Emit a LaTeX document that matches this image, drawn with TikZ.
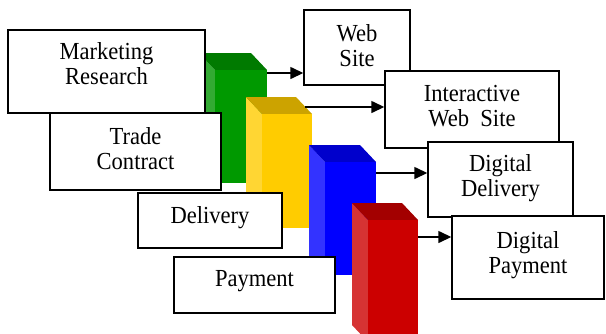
\documentclass[tikz,border=0pt]{standalone}
\usepackage{fontspec}
\setmainfont{Liberation Serif}
\newfontfamily\boxfont{Liberation Serif}[FakeStretch=0.92]
\usetikzlibrary{arrows.meta}

\definecolor{grnside}{RGB}{51,170,51}
\definecolor{grntop}{RGB}{0,122,0}
\definecolor{grnfront}{RGB}{0,153,0}
\definecolor{ylwside}{RGB}{255,214,51}
\definecolor{ylwtop}{RGB}{204,163,0}
\definecolor{ylwfront}{RGB}{255,204,0}
\definecolor{bluside}{RGB}{51,51,255}
\definecolor{blutop}{RGB}{0,0,204}
\definecolor{blufront}{RGB}{0,0,255}
\definecolor{redside}{RGB}{214,51,51}
\definecolor{redtop}{RGB}{163,0,0}
\definecolor{redfront}{RGB}{204,0,0}

\begin{document}
\begin{tikzpicture}[x=1pt, y=-1pt,
  box/.style={draw, fill=white, line width=1.4pt, inner sep=0pt},
  txt/.style={anchor=north, inner sep=0pt, align=center,
    font=\boxfont\fontsize{24.5}{25}\selectfont},
  link/.style={line width=1.4pt, -{Triangle[length=13pt,width=12pt]}}]

\useasboundingbox (0,0) rectangle (606,333);
\clip (0,0) rectangle (606,333);

% green bar
\fill[grnside] (199,53) -- (215,70) -- (215,183) -- (199,166) -- cycle;
\fill[grntop] (199,53) -- (251,53) -- (267,70) -- (215,70) -- cycle;
\fill[grnfront] (215,70) rectangle (267,183);
\coordinate (g) at (267,73);

\node[box, minimum width=197, minimum height=83] (mr) at (106.5,71.5) {};
\node[txt] (mrt) at (106.5,42.5) {Marketing\\Research};

\node[box, minimum width=171, minimum height=77] (tc) at (135.5,151.5) {};
\node[txt] (tct) at (135.5,127.5) {Trade\\Contract};

% yellow bar
\fill[ylwside] (246,97) -- (262,114) -- (262,228) -- (246,211) -- cycle;
\fill[ylwtop] (246,97) -- (296,97) -- (312,114) -- (262,114) -- cycle;
\fill[ylwfront] (262,114) rectangle (312,228);
\coordinate (y) at (305,107);

\node[box, minimum width=144, minimum height=55] (dl) at (210,220.5) {};
\node[txt] (dlt) at (210,206) {Delivery};

% blue bar
\fill[bluside] (309,145) -- (325,162) -- (325,275) -- (309,258) -- cycle;
\fill[blutop] (309,145) -- (360,145) -- (376,162) -- (325,162) -- cycle;
\fill[blufront] (325,162) rectangle (376,275);
\coordinate (b) at (376,173);

\node[box, minimum width=161, minimum height=56] (pm) at (254.5,285) {};
\node[txt] (pmt) at (254.5,270) {Payment};

% red bar, runs off the bottom
\fill[redside] (352,203) -- (368,220) -- (368,342) -- (352,325) -- cycle;
\fill[redtop] (352,203) -- (402,203) -- (418,220) -- (368,220) -- cycle;
\fill[redfront] (368,220) rectangle (418,342);
\coordinate (r) at (418,237);

% right column
\node[box, minimum width=106, minimum height=75] (ws) at (357,47.5) {};
\node[txt] (wst) at (357,24.5) {Web\\Site};

\node[box, minimum width=174, minimum height=77] (iw) at (472,109.5) {};
\node[txt] (iwt) at (472,85.5) {Interactive\\Web~ Site};

\node[box, minimum width=145, minimum height=75] (dd) at (500.5,179.5) {};
\node[txt] (ddt) at (500.5,154.5) {Digital\\Delivery};

\node[box, minimum width=152, minimum height=83] (dp) at (528,257.5) {};
\node[txt] (dpt) at (528,231) {Digital\\Payment};

\draw[link] (g) -- (g -| ws.west);
\draw[link] (y) -- (y -| iw.west);
\draw[link] (b) -- (b -| dd.west);
\draw[link] (r) -- (r -| dp.west);

\end{tikzpicture}
\end{document}
